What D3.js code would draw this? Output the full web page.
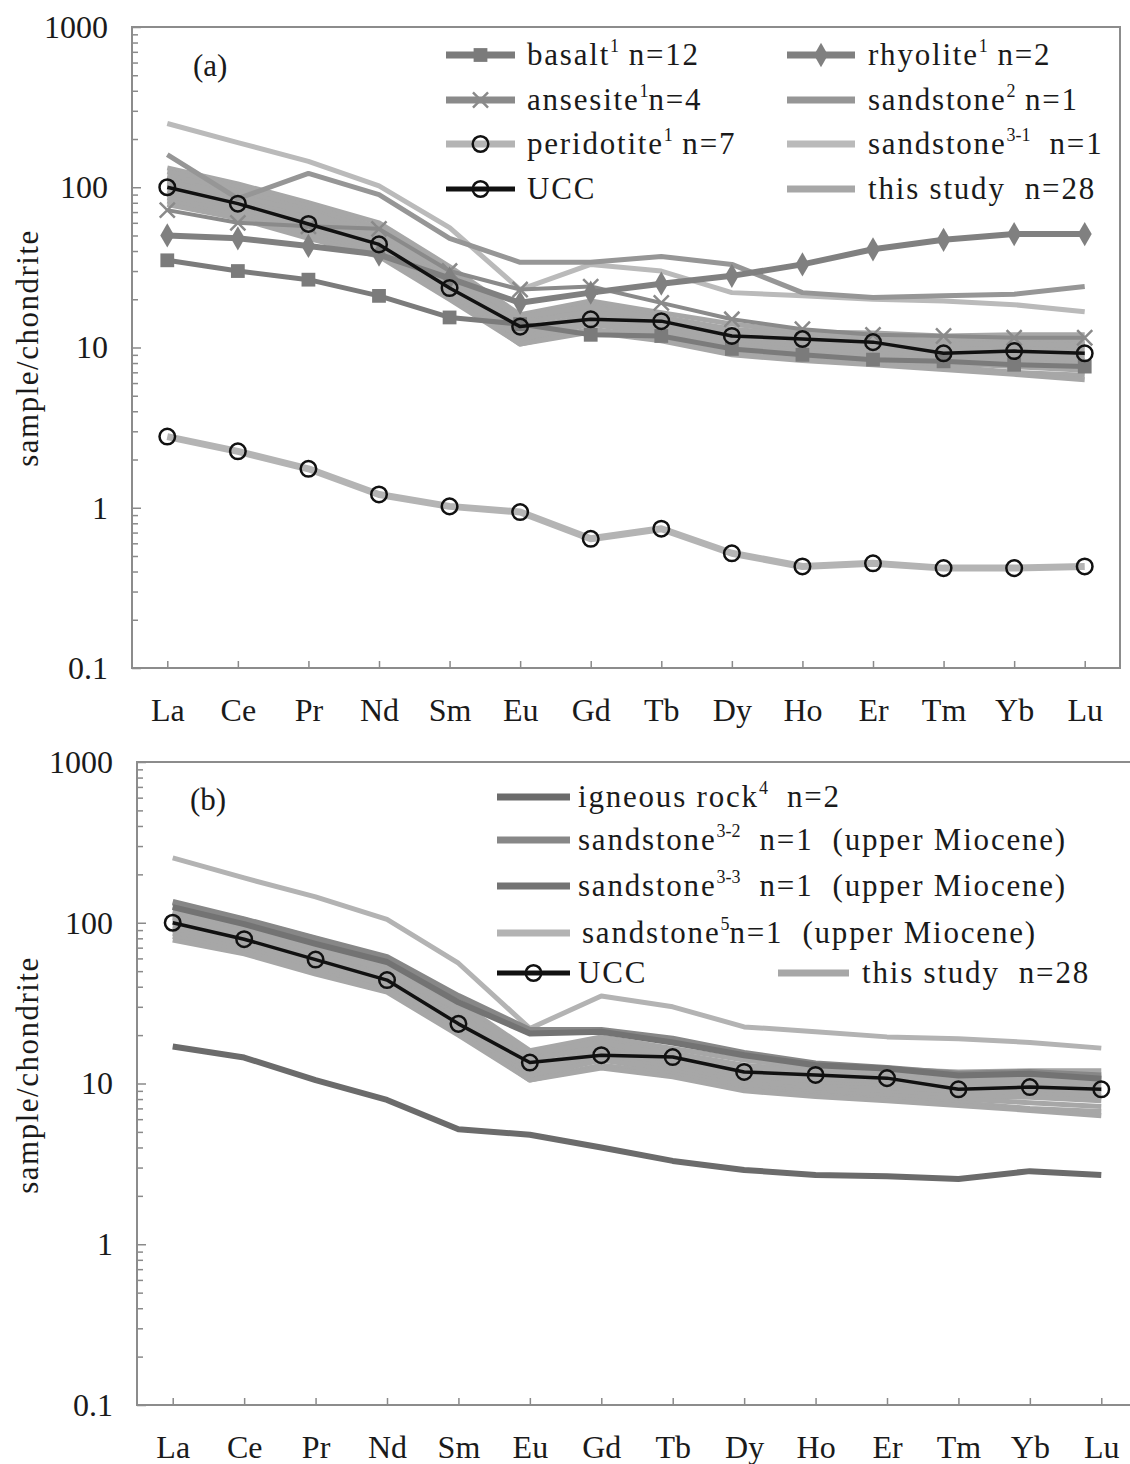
<!DOCTYPE html>
<meta charset="utf-8">
<style>
  body { margin: 0; background: #fff; }
  svg { display: block; font-family: "Liberation Serif", "Times New Roman", serif; }
  .axis line { stroke: #8a8a8a; stroke-width: 1.5; }
  .axis text { font-size: 32px; fill: #1a1a1a; font-family: "Liberation Serif", serif; }
  .legend text { font-size: 31px; fill: #1a1a1a; letter-spacing: 1.8px; white-space: pre; }
  .title { font-size: 31px; fill: #1a1a1a; letter-spacing: 1.5px; }
  .tag { font-size: 31px; fill: #1a1a1a; }
</style>
<body>
<div id="chart"></div>
<script src="https://d3js.org/d3.v7.min.js"></script>
<script>

var elements = ["La", "Ce", "Pr", "Nd", "Sm", "Eu", "Gd", "Tb", "Dy", "Ho", "Er", "Tm", "Yb", "Lu"];
var yTickValues = [0.1, 1, 10, 100, 1000];
var yTickLabels = ["0.1", "1", "10", "100", "1000"];

// chondrite normalised values
var ucc          = [100, 79, 59, 44, 23.5, 13.5, 15, 14.6, 11.8, 11.3, 10.8, 9.2, 9.5, 9.2];
var basalt       = [35, 30, 26.5, 21, 15.4, 14, 12, 11.8, 9.8, 9, 8.4, 8.2, 7.8, 7.6];
var rhyolite     = [50, 48, 43, 38, 27, 19, 22, 25, 28, 33, 41, 47, 51, 51];
var ansesite     = [72, 60, 57, 55, 30, 23, 24, 19, 15, 13, 12, 11.8, 11.5, 11.5];
var peridotite   = [2.78, 2.25, 1.75, 1.21, 1.02, 0.94, 0.64, 0.74, 0.52, 0.43, 0.45, 0.42, 0.42, 0.43];
var sandstone2   = [160, 85, 122, 90, 48, 34, 34, 37, 33, 22, 20.5, 21, 21.5, 24];
var sandstone3_1 = [250, 190, 145, 102, 56, 23, 33, 30, 22, 21, 20, 19.5, 18.5, 16.7];
var igneousRock  = [17, 14.5, 10.5, 7.9, 5.2, 4.8, 4.0, 3.3, 2.9, 2.7, 2.65, 2.55, 2.85, 2.7];
var sandstone3_2 = [135, 105, 80, 61, 35, 21.5, 21.5, 19, 15.5, 13.3, 12.5, 11.5, 11.8, 11.2];
var sandstone3_3 = [125, 98, 74, 57, 32, 20.5, 21, 18, 15, 13, 12.4, 11.2, 11.5, 10.7];
var sandstone5   = [253, 190, 145, 105, 56, 22, 35, 30, 22.5, 21, 19.5, 19, 18, 16.6];

// this study, n=28 (traced curves of the band)
var thisStudy = [
  [132, 105, 80, 60, 32, 16, 19.5, 16.5, 14, 12.5, 12.3, 11.8, 12, 12],
  [125, 100, 76, 56, 30, 15, 18.5, 15.5, 13, 12, 11.5, 11, 11.2, 11],
  [118, 95, 72, 54, 28, 14.5, 17.5, 15, 12.5, 11.5, 11, 10.5, 10.8, 10.5],
  [112, 90, 68, 51, 27, 14, 17, 14.5, 12, 11, 10.5, 10, 10, 9.8],
  [105, 85, 64, 48, 26, 13, 16, 14, 11.5, 10.5, 10, 9.5, 9.5, 9.2],
  [100, 80, 61, 46, 25, 12.5, 15.5, 13.5, 11, 10, 9.6, 9.2, 9, 8.8],
  [95, 76, 58, 44, 24, 12, 15, 13, 10.5, 9.6, 9.2, 8.8, 8.6, 8.3],
  [90, 72, 55, 42, 23, 11.5, 14.5, 12.5, 10, 9.2, 8.8, 8.4, 8.2, 7.8],
  [86, 69, 52, 40, 22, 11, 14, 12, 9.6, 8.8, 8.4, 8, 7.6, 7.2],
  [82, 66, 50, 38, 21, 10.5, 13, 11.5, 9.2, 8.5, 8, 7.6, 7, 6.7],
  [78, 64, 48, 37, 20, 10.5, 12.5, 11, 9, 8.3, 7.8, 7.3, 6.8, 6.3],
  [108, 88, 70, 50, 29, 15.5, 18, 15, 12.8, 11.5, 10.8, 10.4, 10.6, 10.2]
];

var width = 1130, height = 1464;

var svg = d3.select("#chart").append("svg")
  .attr("width", width)
  .attr("height", height);

var symbols = {
  square: d3.symbol().type(d3.symbolSquare).size(190),
  diamond: d3.symbol().type(d3.symbolDiamond).size(170),
  x: d3.symbol().type(d3.symbolX).size(150),
  circle: d3.symbol().type(d3.symbolCircle).size(190)
};

function marker(g, type, cx, cy, color) {
  var m = g.append("path")
    .attr("transform", "translate(" + cx + "," + cy + ")")
    .attr("d", symbols[type]());
  if (type == "circle") {
    m.attr("fill", "none").attr("stroke", "#111").attr("stroke-width", 2.5);
  } else if (type == "x") {
    m.attr("fill", "none").attr("stroke", color).attr("stroke-width", 2.5);
  } else {
    m.attr("fill", color);
  }
}

function drawPanel(p) {
  var x = d3.scalePoint().domain(elements).range([p.left, p.right]).padding(0.5);
  var y = d3.scaleLog().domain([0.1, 1000]).range([p.bottom, p.top]);

  var isMajor = function(d) {
    return yTickValues.some(function(v) { return Math.abs(v - d) < v * 1e-6; });
  };

  // y axis, ticks pointing inward
  var ya = svg.append("g")
    .attr("class", "axis")
    .attr("transform", "translate(" + p.left + ",0)")
    .call(d3.axisLeft(y).tickSize(-6).tickPadding(24).tickFormat(function(d) {
      var i = yTickValues.findIndex(function(v) { return Math.abs(v - d) < v * 1e-6; });
      return i < 0 ? "" : yTickLabels[i];
    }));
  ya.select(".domain").remove();
  ya.selectAll(".tick line").filter(isMajor).attr("x2", 9);

  var xa = svg.append("g")
    .attr("class", "axis")
    .attr("transform", "translate(0," + p.bottom + ")")
    .call(d3.axisBottom(x).tickSize(-7).tickPadding(30));
  xa.select(".domain").remove();

  // frame
  svg.append("rect")
    .attr("x", p.left)
    .attr("y", p.top)
    .attr("width", p.right - p.left)
    .attr("height", p.bottom - p.top)
    .attr("fill", "none")
    .attr("stroke", "#8c8c8c")
    .attr("stroke-width", 2);

  var line = d3.line()
    .x(function(d, i) { return x(elements[i]); })
    .y(function(d) { return y(d); });

  var g = svg.append("g");
  p.series.forEach(function(s) {
    var sets = s.multi ? s.values : [s.values];
    sets.forEach(function(vals) {
      g.append("path")
        .attr("d", line(vals))
        .attr("fill", "none")
        .attr("stroke", s.color)
        .attr("stroke-width", s.width)
        .attr("stroke-linejoin", "round");
      if (s.marker) {
        vals.forEach(function(v, i) { marker(g, s.marker, x(elements[i]), y(v), s.color); });
      }
    });
  });

  svg.append("text")
    .attr("class", "title")
    .attr("text-anchor", "middle")
    .attr("transform", "translate(38," + p.titleY + ") rotate(-90)")
    .text("sample/chondrite");

  svg.append("text")
    .attr("class", "tag")
    .attr("x", p.tag[0])
    .attr("y", p.tag[1])
    .text(p.tag[2]);

  // legend
  var lg = svg.append("g").attr("class", "legend");
  p.legend.forEach(function(e) {
    lg.append("line")
      .attr("x1", e.x1).attr("x2", e.x2)
      .attr("y1", e.y).attr("y2", e.y)
      .attr("stroke", e.s.color)
      .attr("stroke-width", e.s.marker == "circle" && e.s.color == "#111" ? 5 : 7);
    if (e.s.marker) marker(lg, e.s.marker, (e.x1 + e.x2) / 2, e.y, e.s.color);
    var t = lg.append("text").attr("x", e.tx).attr("y", e.y + 10);
    t.append("tspan").text(e.parts[0]);
    if (e.parts.length > 1) {
      t.append("tspan").attr("dy", -13).style("font-size", "18px").style("letter-spacing", "0px").text(e.parts[1]);
      t.append("tspan").attr("dy", 13).text(e.parts[2]);
    }
  });
}

var sUCC = { values: ucc, color: "#111", width: 3.5, marker: "circle" };
var sBasalt = { values: basalt, color: "#7b7b7b", width: 5, marker: "square" };
var sRhyolite = { values: rhyolite, color: "#808080", width: 6, marker: "diamond" };
var sAnsesite = { values: ansesite, color: "#8a8a8a", width: 4, marker: "x" };
var sPeridotite = { values: peridotite, color: "#b4b4b4", width: 7, marker: "circle" };
var sSand2 = { values: sandstone2, color: "#969696", width: 5 };
var sSand31 = { values: sandstone3_1, color: "#bababa", width: 5 };
var sStudy = { values: thisStudy, color: "#a7a7a7", width: 5, multi: true };
var sIgneous = { values: igneousRock, color: "#6b6b6b", width: 6 };
var sSand32 = { values: sandstone3_2, color: "#878787", width: 6 };
var sSand33 = { values: sandstone3_3, color: "#737373", width: 6 };
var sSand5 = { values: sandstone5, color: "#b3b3b3", width: 5 };

drawPanel({
  left: 132, right: 1120, top: 27, bottom: 668,
  titleY: 348,
  tag: [193, 76, "(a)"],
  series: [sStudy, sSand31, sSand2, sPeridotite, sBasalt, sAnsesite, sRhyolite, sUCC],
  legend: [
    { s: sBasalt, x1: 446, x2: 515, tx: 527, y: 55, parts: ["basalt", "1", " n=12"] },
    { s: sAnsesite, x1: 446, x2: 515, tx: 527, y: 100, parts: ["ansesite", "1", "n=4"] },
    { s: sPeridotite, x1: 446, x2: 515, tx: 527, y: 144, parts: ["peridotite", "1", " n=7"] },
    { s: sUCC, x1: 446, x2: 515, tx: 527, y: 189, parts: ["UCC"] },
    { s: sRhyolite, x1: 787, x2: 855, tx: 868, y: 55, parts: ["rhyolite", "1", " n=2"] },
    { s: sSand2, x1: 787, x2: 855, tx: 868, y: 100, parts: ["sandstone", "2", " n=1"] },
    { s: sSand31, x1: 787, x2: 855, tx: 868, y: 144, parts: ["sandstone", "3-1", "  n=1"] },
    { s: sStudy, x1: 787, x2: 855, tx: 868, y: 189, parts: ["this study  n=28"] }
  ]
});

drawPanel({
  left: 137, right: 1137, top: 762, bottom: 1405,
  titleY: 1075,
  tag: [190, 810, "(b)"],
  series: [sStudy, sSand5, sSand32, sSand33, sIgneous, sUCC],
  legend: [
    { s: sIgneous, x1: 497, x2: 570, tx: 578, y: 797, parts: ["igneous rock", "4", "  n=2"] },
    { s: sSand32, x1: 497, x2: 570, tx: 578, y: 840, parts: ["sandstone", "3-2", "  n=1  (upper Miocene)"] },
    { s: sSand33, x1: 497, x2: 570, tx: 578, y: 886, parts: ["sandstone", "3-3", "  n=1  (upper Miocene)"] },
    { s: sSand5, x1: 497, x2: 570, tx: 582, y: 933, parts: ["sandstone", "5", "n=1  (upper Miocene)"] },
    { s: sUCC, x1: 497, x2: 570, tx: 578, y: 973, parts: ["UCC"] },
    { s: sStudy, x1: 778, x2: 849, tx: 862, y: 973, parts: ["this study  n=28"] }
  ]
});

</script>
</body>
